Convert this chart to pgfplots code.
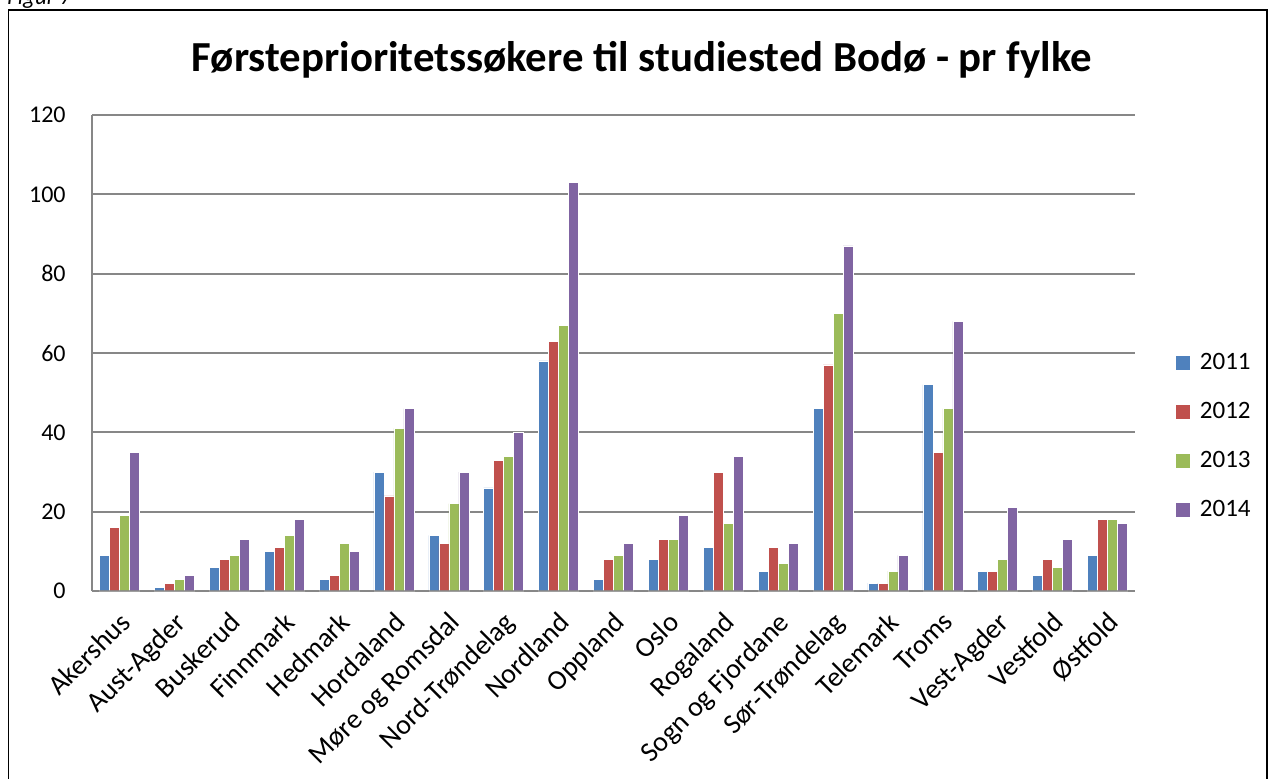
\documentclass[border=0pt]{standalone}
\usepackage{pgfplots}
\pgfplotsset{compat=1.18}
\usepackage{fontspec}
\setmainfont{Carlito}
\definecolor{c11}{HTML}{4F81BD}
\definecolor{c12}{HTML}{C0504D}
\definecolor{c13}{HTML}{9BBB59}
\definecolor{c14}{HTML}{8064A2}
\definecolor{gridc}{HTML}{878787}
\begin{document}
\begin{tikzpicture}
\useasboundingbox (0,0) rectangle (634.5pt,389pt);
\clip (0,0) rectangle (634.5pt,389pt);
\draw[line width=0.8pt] (4.25pt,-5pt) -- (4.25pt,384pt) -- (633.5pt,384pt) -- (633.5pt,-5pt);
\node[anchor=base west, font=\fontsize{11.5}{13}\selectfont\itshape, inner sep=0pt] at (3.5pt,386.5pt) {Figur 7};
\node[font=\fontsize{21.4}{25}\selectfont\bfseries] at (321pt,359pt) {Førsteprioritetssøkere til studiested Bodø - pr fylke};
\begin{axis}[
  at={(46pt,93.5pt)}, anchor=south west,
  scale only axis, width=521.5pt, height=238pt,
  ybar=0pt, bar width=5pt,
  xmin=-0.5, xmax=18.5, ymin=0, ymax=120,
  ytick={0,20,...,120},
  xtick={0,...,18},
  xticklabels={Akershus,Aust-Agder,Buskerud,Finnmark,Hedmark,Hordaland,Møre og Romsdal,Nord-Trøndelag,Nordland,Oppland,Oslo,Rogaland,Sogn og Fjordane,Sør-Trøndelag,Telemark,Troms,Vest-Agder,Vestfold,Østfold},
  axis x line*=bottom, axis y line*=left,
  axis line style={gridc, line width=1pt},
  major tick length=0pt,
  ymajorgrids, grid style={gridc, line width=1pt},
  /pgf/number format/assume math mode=true,
  yticklabel style={font=\fontsize{12}{14}\selectfont, anchor=east, inner sep=0pt, xshift=-13pt},
  xticklabel style={font=\fontsize{14}{16}\selectfont, xshift=-0.6pt, yshift=-9.5pt, rotate=45, anchor=north east, inner sep=0pt},
  legend style={at={(1.0383,0.325)}, anchor=west, draw=none, fill=none,
    font=\fontsize{12.5}{14}\selectfont, row sep=11pt, column sep=2.5pt, inner sep=0pt,
    nodes={inner sep=2pt}},
  legend cell align=left,
  legend image code/.code={\fill[#1] (0pt,-3.75pt) rectangle (7.5pt,3.75pt);},
  every axis plot/.append style={draw=white, line width=0.3pt},
  clip=false,
]
\addplot[fill=c11] coordinates {(0,9) (1,1) (2,6) (3,10) (4,3) (5,30) (6,14) (7,26) (8,58) (9,3) (10,8) (11,11) (12,5) (13,46) (14,2) (15,52) (16,5) (17,4) (18,9)};
\addplot[fill=c12] coordinates {(0,16) (1,2) (2,8) (3,11) (4,4) (5,24) (6,12) (7,33) (8,63) (9,8) (10,13) (11,30) (12,11) (13,57) (14,2) (15,35) (16,5) (17,8) (18,18)};
\addplot[fill=c13] coordinates {(0,19) (1,3) (2,9) (3,14) (4,12) (5,41) (6,22) (7,34) (8,67) (9,9) (10,13) (11,17) (12,7) (13,70) (14,5) (15,46) (16,8) (17,6) (18,18)};
\addplot[fill=c14] coordinates {(0,35) (1,4) (2,13) (3,18) (4,10) (5,46) (6,30) (7,40) (8,103) (9,12) (10,19) (11,34) (12,12) (13,87) (14,9) (15,68) (16,21) (17,13) (18,17)};
\legend{2011,2012,2013,2014}
\draw[gridc, line width=1pt, opacity=0.8] (rel axis cs:0,0) -- (rel axis cs:1,0);
\end{axis}
\end{tikzpicture}
\end{document}
